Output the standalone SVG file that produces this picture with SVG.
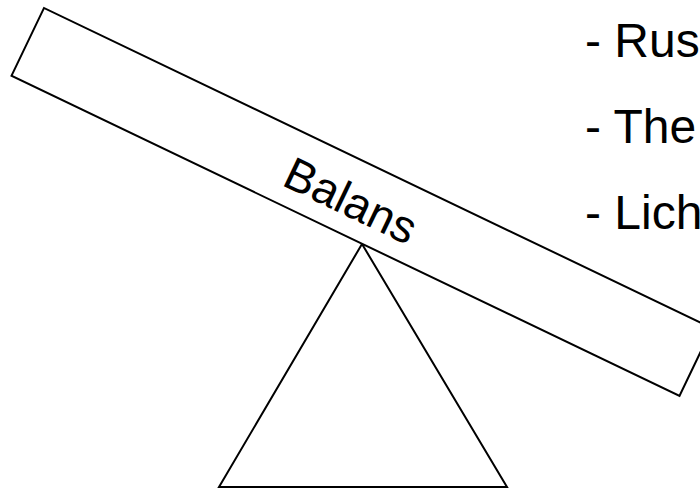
<svg xmlns="http://www.w3.org/2000/svg" width="700" height="489" viewBox="0 0 700 489">
  <style>
    .shape { fill: #ffffff; stroke: #000000; stroke-width: 2; stroke-linejoin: miter; }
    .label { font-family: "Liberation Sans", Arial, sans-serif; fill: #000000; }
  </style>
  <rect x="0" y="0" width="700" height="489" fill="#ffffff"/>
  <g id="fulcrum">
    <polygon class="shape" points="362,244 219,487 507,487"/>
  </g>
  <g id="plank" transform="translate(44,8) rotate(25.6)">
    <rect class="shape" x="0" y="0" width="740.7" height="75.2"/>
    <text class="label" x="360" y="57" font-size="46" text-anchor="middle">Balans</text>
  </g>
  <g id="list">
    <text class="label" x="585" y="57" font-size="48">- Rust</text>
    <text class="label" x="585" y="143" font-size="48">- The</text>
    <text class="label" x="585" y="229" font-size="48">- Lich</text>
  </g>
  <g id="connectors"></g>
</svg>
